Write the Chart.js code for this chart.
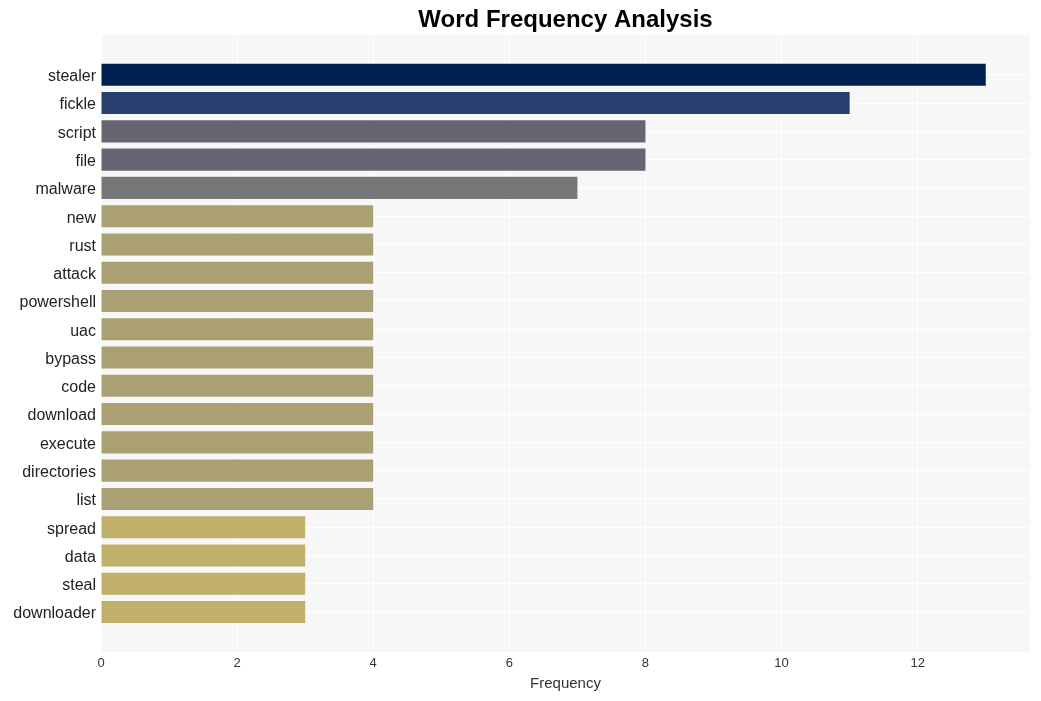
<!DOCTYPE html>
<html>
<head>
<meta charset="utf-8">
<script src="https://cdn.jsdelivr.net/npm/chart.js@4/dist/chart.umd.min.js"></script>
<style>
  html, body { margin: 0; padding: 0; background: #fff; }
  #wrap { width: 1041px; height: 701px; }
</style>
</head>
<body>
<div id="wrap"><canvas id="chart"></canvas></div>
<script>
// Data
const words = ['stealer', 'fickle', 'script', 'file', 'malware', 'new', 'rust', 'attack',
  'powershell', 'uac', 'bypass', 'code', 'download', 'execute', 'directories', 'list',
  'spread', 'data', 'steal', 'downloader'];
const counts = [13, 11, 8, 8, 7, 4, 4, 4, 4, 4, 4, 4, 4, 4, 4, 4, 3, 3, 3, 3];
const barColors = ['#002150', '#283e6f', '#666672', '#666672', '#767676',
  '#aba074', '#aba074', '#aba074', '#aba074', '#aba074', '#aba074', '#aba074',
  '#aba074', '#aba074', '#aba074', '#aba074',
  '#c1b06b', '#c1b06b', '#c1b06b', '#c1b06b'];
const xTicks = [0, 2, 4, 6, 8, 10, 12];

const font = '"Liberation Sans", Arial, sans-serif';

// Light grey plot background
const plotBg = {
  id: 'plotBg',
  beforeDraw(chart) {
    const { ctx, chartArea: a } = chart;
    ctx.save();
    ctx.fillStyle = '#f7f7f7';
    ctx.fillRect(a.left, a.top, a.right - a.left, a.bottom - a.top);
    ctx.restore();
  }
};

new Chart(document.getElementById('chart'), {
  type: 'bar',
  data: {
    datasets: [{
      data: counts.map((c, i) => ({ x: c, y: i })),
      backgroundColor: barColors,
      borderWidth: 0,
      categoryPercentage: 1,
      barPercentage: 0.78
    }]
  },
  plugins: [plotBg],
  options: {
    indexAxis: 'y',
    responsive: true,
    maintainAspectRatio: false,
    animation: false,
    layout: { padding: { left: 0, right: 11, top: 0, bottom: 0 } },
    plugins: {
      legend: { display: false },
      tooltip: { enabled: false },
      title: {
        display: true,
        text: 'Word Frequency Analysis',
        fullSize: false,
        color: '#000',
        font: { family: font, size: 24, weight: 'bold' },
        padding: { top: 6, bottom: 0 }
      }
    },
    scales: {
      x: {
        type: 'linear',
        min: 0,
        max: 13.65,
        afterBuildTicks: s => { s.ticks = xTicks.map(v => ({ value: v })); },
        afterFit: s => { s.height = 49; },
        border: { display: false },
        grid: { color: '#ffffff', lineWidth: 1, drawTicks: false },
        ticks: { color: '#333', padding: 4, font: { family: font, size: 13 } },
        title: {
          display: true,
          text: 'Frequency',
          color: '#333',
          font: { family: font, size: 15 },
          padding: { top: 2, bottom: 8 }
        }
      },
      y: {
        type: 'linear',
        reverse: true,
        offset: false,
        min: -1.415,
        max: 20.415,
        afterBuildTicks: s => { s.ticks = words.map((w, i) => ({ value: i })); },
        afterFit: s => { s.width = 101; },
        border: { display: false },
        grid: { color: '#ffffff', lineWidth: 1, drawTicks: false, offset: false },
        ticks: {
          autoSkip: false,
          color: '#222',
          padding: 5,
          labelOffset: 2,
          font: { family: font, size: 16 },
          callback: v => words[v] || ''
        }
      }
    }
  }
});
</script>
</body>
</html>
